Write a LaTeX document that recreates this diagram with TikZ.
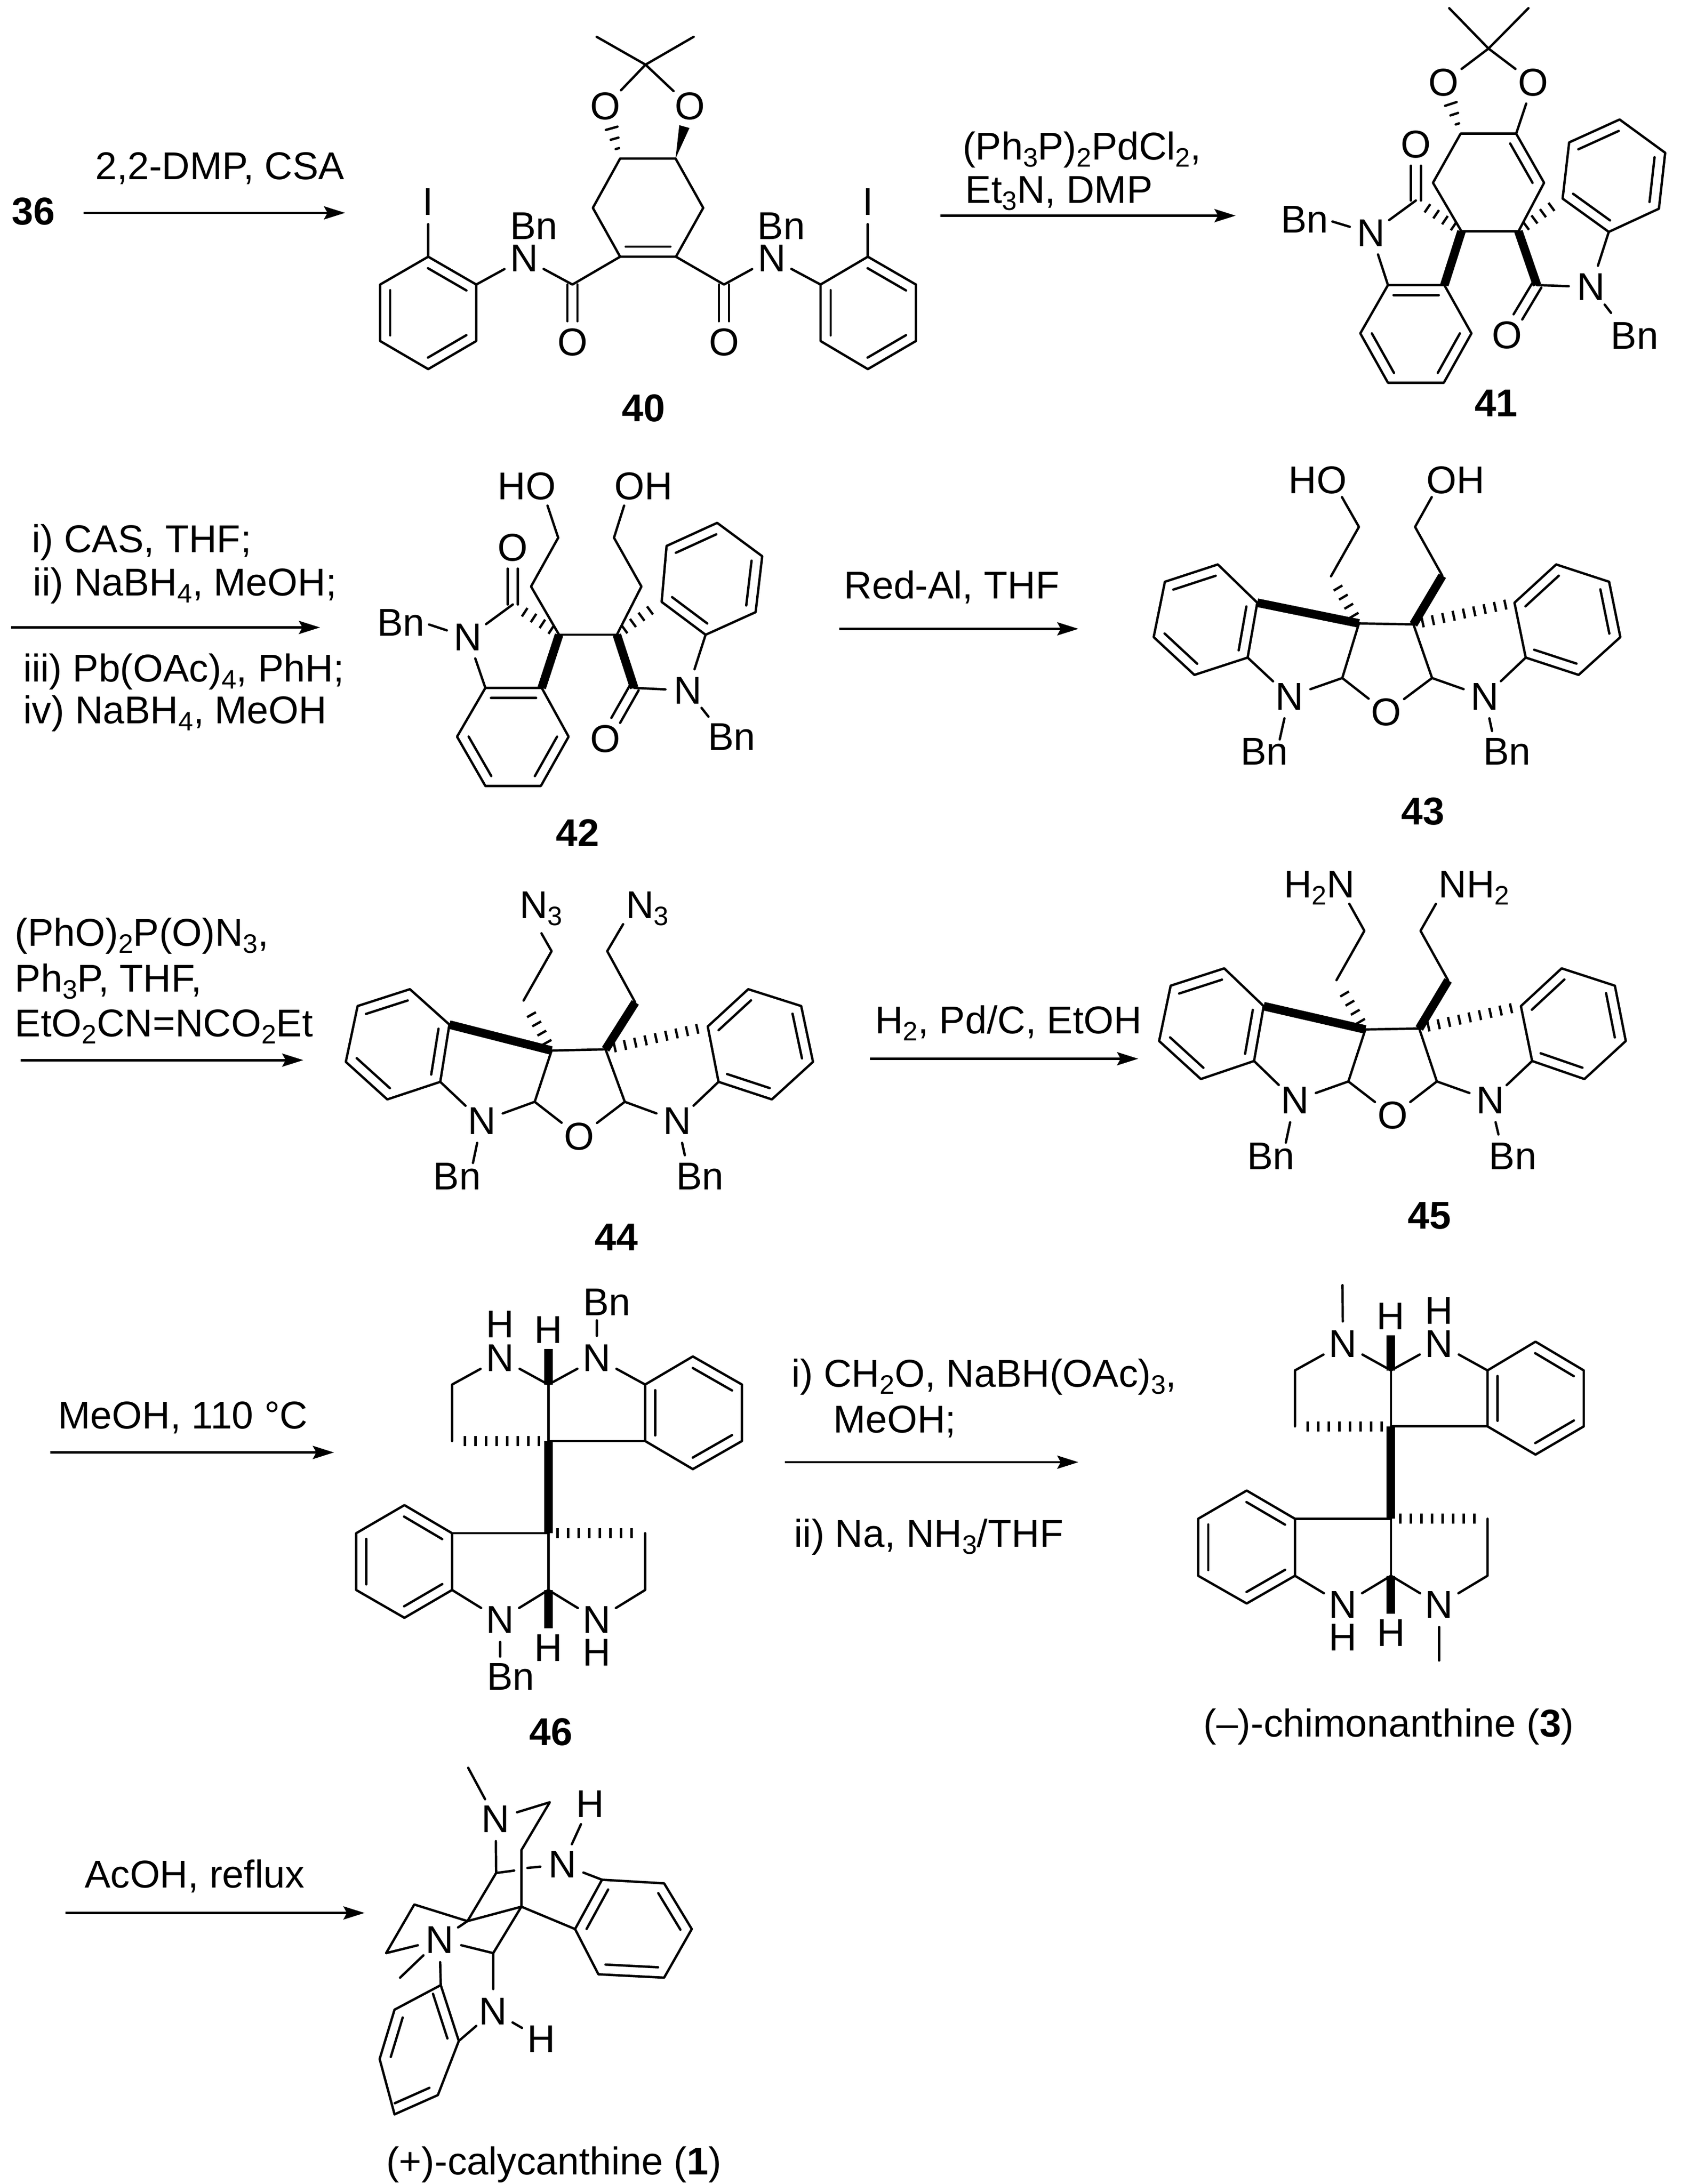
\documentclass[tikz,border=0pt]{standalone}
\usepackage{fontspec}
\setmainfont{Liberation Sans}
\usetikzlibrary{calc,arrows.meta}
\newcommand\sbs[1]{\raisebox{-1.4pt}{\fontsize{5.3}{6}\selectfont #1}}
\tikzset{
  zm/.style n args={4}{shift={(#1*0.1pt,-#2*0.1pt)},x={0.1pt/#3},y={-0.1pt/#4}},
  atom/.style={circle,inner sep=0pt,minimum size=8.4pt,font=\fontsize{7.7}{9}\selectfont},
  lab/.style={inner sep=0pt,font=\fontsize{7.7}{9}\selectfont},
  cond/.style={inner sep=0pt,anchor=base west,font=\fontsize{7.7}{9}\selectfont},
  num/.style={inner sep=0pt,font=\fontsize{7.7}{9}\selectfont\bfseries},
  boldb/.style={line width=1.7pt,line cap=butt},
  hashb/.style={line width=2pt,line cap=butt,dash pattern=on .47pt off 1.63pt,dash phase=.47pt,shorten >=1.5pt},
  rx/.style={-{Stealth[length=4.2pt,width=2.6pt,inset=.7pt]},line cap=butt},
}
\newcommand\Pt[3]{\coordinate (#1) at (#2,#3);}
\newcommand\Atm[4]{\node[atom] (#1) at (#2,#3) {#4};}
\newcommand\Lab[4]{\node[lab] (#1) at (#2,#3) {#4};}
\newcommand\inn[2]{\draw ($(#1)!.1!(#2)!2pt!90:(#2)$) -- ($(#2)!.1!(#1)!2pt!-90:(#1)$);}
\newcommand\ringd[6]{\draw (#1)--(#2)--(#3)--(#4)--(#5)--(#6)--cycle; \inn{#1}{#2}\inn{#3}{#4}\inn{#5}{#6}}
\newcommand\symd[2]{%
  \draw ($(#1)!1pt!90:(#2)$) -- ($(#2)!4.2pt!(#1)!1pt!-90:(#1)$);
  \draw ($(#1)!1pt!-90:(#2)$) -- ($(#2)!4.2pt!(#1)!1pt!90:(#1)$);}
\newcommand\swedge[3]{\fill (#1) -- ($(#2)!#3!90:(#1)$) -- ($(#2)!#3!-90:(#1)$) -- cycle;}
\newcommand\thash[2]{%
  \draw ($(#1)!.19!(#2)!.35pt!90:(#2)$) -- ($(#1)!.19!(#2)!.35pt!-90:(#2)$);
  \draw ($(#1)!.38!(#2)!.8pt!90:(#2)$) -- ($(#1)!.38!(#2)!.8pt!-90:(#2)$);
  \draw ($(#1)!.58!(#2)!1.2pt!90:(#2)$) -- ($(#1)!.58!(#2)!1.2pt!-90:(#2)$);}
% core shared by 41 and 42
\newcommand\spiroCore{%
  \draw (c5)--(c6);
  \draw[boldb] (c5)--(b1); \draw[boldb] (c6)--(a2);
  \draw[hashb] (c5)--(a1); \draw[hashb] (c6)--(d1);
  \draw (a1)--(N1)--(b2); \draw (a2)--(N2)--(d6);
  \draw (N1)--(nb1); \draw (N2)--(nb2);
  \symd{a1}{O3}\symd{a2}{O4}
  \ringd{b1}{b2}{b3}{b4}{b5}{b6}
  \ringd{d1}{d6}{d5}{d4}{d3}{d2}}
% core shared by 43, 44 and 45
\newcommand\tetraCore{%
  \draw (e1)--(c1)--(c2); \draw (e2)--(c3)--(c4);
  \draw[boldb] (c5)--(b1); \draw[boldb] (c6)--(c4);
  \draw[hashb] (c5)--(c2); \draw[hashb] (c6)--(d1);
  \draw (c5)--(c6);
  \draw (c5)--(e); \draw (c6)--(f);
  \draw (e)--(O); \draw (f)--(O);
  \draw (b2)--(N1)--(e); \draw (d2)--(N2)--(f);
  \draw (N1)--(nb1); \draw (N2)--(nb2);
  \ringd{b6}{b5}{b4}{b3}{b2}{b1}
  \ringd{d2}{d3}{d4}{d5}{d6}{d1}}
% core shared by 46 and 3
\newcommand\dimerCore{%
  \draw (N1)--(p1)--(p2); \draw[hashb] (c2)--(p2);
  \draw (N1)--(c1)--(N2)--(q1);
  \draw (c1)--(c2)--(q2);
  \draw[boldb] (c1)--(hu); \draw[boldb] (c2)--(c3); \draw[boldb] (c4)--(hd);
  \draw (c3)--(s1); \draw (c3)--(c4);
  \draw (s2)--(N3)--(c4)--(N4)--(u1)--(u2);
  \draw[hashb] (c3)--(u2);
  \ringd{q1}{q2}{r5}{r4}{r3}{r2}
  \ringd{s1}{t2}{t3}{t4}{t5}{s2}}
\begin{document}
\begin{tikzpicture}[line width=.47pt,line cap=round,line join=round]
\fill[white] (0,0) rectangle (333.9pt,-433.9pt);
\path[use as bounding box] (0,0) rectangle (333.9pt,-433.9pt);

% ---- reaction arrows and conditions
\begin{scope}[name prefix=g-,x=.2764pt,y=-.2764pt]
\node[num] (n36) at (24,152) {36};
\Lab{t1}{158}{121}{2,2-DMP, CSA}
\Pt{r1s}{60}{153}\Pt{r1e}{248}{153}\draw[rx] (r1s)--(r1e);
\node[cond] (t2) at (691,115) {(Ph\sbs{3}P)\sbs{2}PdCl\sbs{2},};
\node[cond] (t3) at (693,146) {Et\sbs{3}N, DMP};
\Pt{r2s}{676}{155}\Pt{r2e}{888}{155}\draw[rx] (r2s)--(r2e);
\node[cond] (t4) at (22,397) {i) CAS, THF;};
\node[cond] (t5) at (23,428) {ii) NaBH\sbs{4}, MeOH;};
\Pt{r3s}{8}{451}\Pt{r3e}{230}{451}\draw[rx] (r3s)--(r3e);
\node[cond] (t6) at (16,490) {iii) Pb(OAc)\sbs{4}, PhH;};
\node[cond] (t7) at (16,520) {iv) NaBH\sbs{4}, MeOH};
\Lab{t8}{684}{422}{Red-Al, THF}
\Pt{r4s}{603}{452}\Pt{r4e}{775}{452}\draw[rx] (r4s)--(r4e);
\node[cond] (t9) at (10,680) {(PhO)\sbs{2}P(O)N\sbs{3},};
\node[cond] (t10) at (10,713) {Ph\sbs{3}P, THF,};
\node[cond] (t11) at (10,745) {EtO\sbs{2}CN=NCO\sbs{2}Et};
\Pt{r5s}{15}{762}\Pt{r5e}{218}{762}\draw[rx] (r5s)--(r5e);
\node[cond] (t12) at (628,743) {H\sbs{2}, Pd/C, EtOH};
\Pt{r6s}{625}{761}\Pt{r6e}{818}{761}\draw[rx] (r6s)--(r6e);
\node[cond] (t13) at (41,1027) {MeOH, 110 °C};
\Pt{r7s}{36}{1044}\Pt{r7e}{240}{1044}\draw[rx] (r7s)--(r7e);
\node[cond] (t14) at (568,997) {i) CH\sbs{2}O, NaBH(OAc)\sbs{3},};
\node[cond] (t15) at (598,1030) {MeOH;};
\Pt{r8s}{564}{1051}\Pt{r8e}{775}{1051}\draw[rx] (r8s)--(r8e);
\node[cond] (t16) at (570,1112) {ii) Na, NH\sbs{3}/THF};
\node[cond] (t17) at (60,1357) {AcOH, reflux};
\Pt{r9s}{47}{1375}\Pt{r9e}{262}{1375}\draw[rx] (r9s)--(r9e);
\node[num] (n46) at (396,1245) {46};
\Lab{t18}{998}{1241}{(–)-chimonanthine (\textbf{3})}
\Lab{t19}{398}{1556}{(+)-calycanthine (\textbf{1})}
\end{scope}

% ---- 40
\begin{scope}[name prefix=m40-,zm={700}{0}{1.307}{1.845}]
\Pt{me1}{635}{135}\Pt{me2}{887}{135}\Pt{cq}{762}{237}
\Atm{O1}{658}{390}{O}\Atm{O2}{877}{390}{O}
\Pt{c1}{696}{581}\Pt{c2}{840}{581}\Pt{c3}{625}{762}\Pt{c4}{912}{762}\Pt{c5}{696}{941}\Pt{c6}{841}{941}
\Pt{w}{863}{464}
\Pt{am1}{572}{1043}\Pt{am2}{966}{1043}
\Atm{O3}{572}{1255}{O}\Atm{O4}{966}{1255}{O}
\Atm{N1}{446}{947}{N}\Atm{N2}{1090}{947}{N}
\Lab{Bn1}{472}{828}{Bn}\Lab{Bn2}{1115}{828}{Bn}
\Pt{a1}{322}{1043}\Pt{a2}{197}{941}\Pt{a3}{72}{1043}\Pt{a4}{72}{1250}\Pt{a5}{197}{1353}\Pt{a6}{322}{1250}
\Pt{b1}{1217}{1043}\Pt{b2}{1340}{941}\Pt{b3}{1465}{1043}\Pt{b4}{1465}{1250}\Pt{b5}{1340}{1353}\Pt{b6}{1217}{1250}
\Atm{I1}{197}{740}{I}\Atm{I2}{1340}{740}{I}
\draw (me1)--(cq)--(me2); \draw (cq)--(O1); \draw (cq)--(O2);
\thash{c1}{O1}\swedge{c2}{w}{1.05pt}
\draw (c2)--(c1)--(c3)--(c5)--(c6)--(c4)--(c2);
\inn{c5}{c6}
\draw (c5)--(am1)--(N1)--(a1); \draw (c6)--(am2)--(N2)--(b1);
\symd{am1}{O3}\symd{am2}{O4}
\draw (a2)--(I1); \draw (b2)--(I2);
\ringd{a1}{a2}{a3}{a4}{a5}{a6}
\ringd{b1}{b6}{b5}{b4}{b3}{b2}
\node[num] (n) at (757,1497) {40};
\end{scope}

% ---- 41
\begin{scope}[name prefix=m41-,zm={2450}{0}{1.764}{1.845}]
\Pt{me1}{757}{30}\Pt{me2}{1035}{30}\Pt{cq}{895}{178}
\Atm{O1}{738}{302}{O}\Atm{O2}{1052}{302}{O}
\Pt{c1}{797}{490}\Pt{c2}{992}{490}\Pt{c3}{700}{670}\Pt{c4}{1090}{670}\Pt{c5}{800}{848}\Pt{c6}{1000}{848}
\Pt{a1}{640}{735}\Atm{O3}{640}{530}{O}\Atm{N1}{483}{855}{N}
\Lab{Bn1}{250}{805}{Bn}\Pt{nb1}{347}{812}
\Pt{b1}{740}{1045}\Pt{b2}{542}{1045}\Pt{b3}{445}{1222}\Pt{b4}{542}{1403}\Pt{b5}{738}{1403}\Pt{b6}{835}{1222}
\Pt{a2}{1065}{1045}\Atm{O4}{960}{1228}{O}\Atm{N2}{1255}{1052}{N}
\Lab{Bn2}{1408}{1230}{Bn}\Pt{nb2}{1325}{1147}
\Pt{d1}{1155}{728}\Pt{d2}{1178}{522}\Pt{d3}{1355}{438}\Pt{d4}{1515}{560}\Pt{d5}{1493}{765}\Pt{d6}{1317}{850}
\draw (me1)--(cq)--(me2); \draw (cq)--(O1); \draw (cq)--(O2); \draw (O2)--(c2);
\thash{c1}{O1}
\draw (c2)--(c1)--(c3)--(c5); \draw (c6)--(c4)--(c2);
\inn{c4}{c2}
\spiroCore
\node[num] (n) at (922,1478) {41};
\end{scope}

% ---- 42
\begin{scope}[name prefix=m42-,zm={700}{900}{1.742}{1.96}]
\Lab{HO}{603}{130}{HO}\Lab{OH}{1008}{130}{OH}
\Pt{e1}{675}{205}\Pt{e2}{940}{205}
\Pt{c1}{712}{330}\Pt{c2}{618}{520}\Pt{c3}{905}{330}\Pt{c4}{1000}{520}\Pt{c5}{715}{708}\Pt{c6}{915}{708}
\Pt{a1}{555}{590}\Atm{O3}{555}{368}{O}\Atm{N1}{400}{718}{N}
\Lab{Bn1}{168}{660}{Bn}\Pt{nb1}{265}{668}
\Pt{b1}{655}{915}\Pt{b2}{460}{915}\Pt{b3}{362}{1105}\Pt{b4}{460}{1297}\Pt{b5}{652}{1297}\Pt{b6}{748}{1105}
\Pt{a2}{975}{915}\Atm{O4}{875}{1113}{O}\Atm{N2}{1160}{925}{N}
\Lab{Bn2}{1312}{1105}{Bn}\Pt{nb2}{1232}{1027}
\Pt{d1}{1070}{580}\Pt{d2}{1087}{362}\Pt{d3}{1262}{272}\Pt{d4}{1418}{402}\Pt{d5}{1395}{620}\Pt{d6}{1222}{708}
\draw (e1)--(c1)--(c2)--(c5); \draw (e2)--(c3)--(c4)--(c6);
\spiroCore
\node[num] (n) at (780,1480) {42};
\end{scope}

% ---- 43
\begin{scope}[name prefix=m43-,zm={2250}{900}{1.568}{2.09}]
\Lab{HO}{577}{112}{HO}\Lab{OH}{1007}{112}{OH}
\Pt{e1}{652}{183}\Pt{e2}{932}{183}
\Pt{c1}{705}{307}\Pt{c2}{618}{512}\Pt{c3}{880}{307}\Pt{c4}{965}{510}\Pt{c5}{705}{708}\Pt{c6}{875}{712}
\Pt{e}{653}{935}\Pt{f}{933}{935}\Atm{O}{790}{1078}{O}
\Atm{N1}{488}{1012}{N}\Atm{N2}{1097}{1012}{N}
\Lab{Bn1}{410}{1240}{Bn}\Pt{nb1}{458}{1190}\Lab{Bn2}{1167}{1240}{Bn}\Pt{nb2}{1120}{1155}
\Pt{b1}{388}{622}\Pt{b2}{358}{850}\Pt{b3}{192}{922}\Pt{b4}{65}{765}\Pt{b5}{100}{535}\Pt{b6}{265}{463}
\Pt{d1}{1190}{622}\Pt{d2}{1225}{850}\Pt{d3}{1390}{922}\Pt{d4}{1520}{765}\Pt{d5}{1485}{535}\Pt{d6}{1320}{463}
\tetraCore
\node[num] (n) at (905,1490) {43};
\end{scope}

% ---- 44
\begin{scope}[name prefix=m44-,zm={650}{1750}{1.493}{2.09}]
\node[cond] (N3a) at (567,155) {N\sbs{3}};\node[cond] (N3b) at (882,155) {N\sbs{3}};
\Pt{e1}{635}{218}\Pt{e2}{877}{180}
\Pt{c1}{665}{292}\Pt{c2}{582}{497}\Pt{c3}{830}{292}\Pt{c4}{913}{505}\Pt{c5}{665}{705}\Pt{c6}{825}{700}
\Pt{e}{615}{918}\Pt{f}{882}{918}\Atm{O}{747}{1062}{O}
\Atm{N1}{458}{998}{N}\Atm{N2}{1038}{998}{N}
\Lab{Bn1}{385}{1228}{Bn}\Pt{nb1}{432}{1172}\Lab{Bn2}{1105}{1228}{Bn}\Pt{nb2}{1060}{1140}
\Pt{b1}{362}{597}\Pt{b2}{335}{835}\Pt{b3}{178}{908}\Pt{b4}{55}{752}\Pt{b5}{90}{520}\Pt{b6}{245}{450}
\Pt{d1}{1128}{605}\Pt{d2}{1160}{835}\Pt{d3}{1318}{908}\Pt{d4}{1440}{752}\Pt{d5}{1405}{520}\Pt{d6}{1248}{450}
\tetraCore
\node[num] (n) at (857,1480) {44};
\end{scope}

% ---- 45
\begin{scope}[name prefix=m45-,zm={2250}{1700}{1.568}{2.09}]
\node[cond] (Na) at (467,175) {H\sbs{2}N};\node[cond] (Nb) at (950,175) {NH\sbs{2}};
\Pt{e1}{675}{200}\Pt{e2}{945}{200}
\Pt{c1}{722}{312}\Pt{c2}{635}{517}\Pt{c3}{897}{312}\Pt{c4}{983}{518}\Pt{c5}{725}{722}\Pt{c6}{893}{718}
\Pt{e}{672}{938}\Pt{f}{948}{938}\Atm{O}{810}{1080}{O}
\Atm{N1}{505}{1017}{N}\Atm{N2}{1115}{1017}{N}
\Lab{Bn1}{430}{1248}{Bn}\Pt{nb1}{477}{1192}\Lab{Bn2}{1185}{1248}{Bn}\Pt{nb2}{1140}{1158}
\Pt{b1}{408}{625}\Pt{b2}{378}{853}\Pt{b3}{212}{928}\Pt{b4}{82}{770}\Pt{b5}{118}{540}\Pt{b6}{285}{468}
\Pt{d1}{1210}{625}\Pt{d2}{1245}{853}\Pt{d3}{1408}{928}\Pt{d4}{1537}{770}\Pt{d5}{1503}{540}\Pt{d6}{1337}{468}
\tetraCore
\node[num] (n) at (925,1497) {45};
\end{scope}

% ---- 46
\begin{scope}[name prefix=m46-,zm={650}{2550}{1.742}{1.845}]
\Atm{N1}{598}{273}{N}\Lab{H1}{598}{150}{H}\Lab{H2}{765}{170}{H}\Atm{N2}{933}{273}{N}
\Lab{Bn1}{968}{68}{Bn}\Pt{nb1}{933}{135}
\Pt{c1}{765}{370}\Pt{hu}{765}{240}\Pt{c2}{765}{577}\Pt{p1}{432}{370}\Pt{p2}{432}{577}
\Pt{q1}{1100}{370}\Pt{q2}{1100}{577}\Pt{r2}{1265}{267}\Pt{r3}{1435}{370}\Pt{r4}{1435}{577}\Pt{r5}{1265}{680}
\Pt{c3}{765}{915}\Pt{c4}{765}{1123}\Pt{hd}{765}{1263}\Pt{s1}{432}{915}\Pt{s2}{432}{1123}
\Pt{t2}{267}{812}\Pt{t3}{100}{915}\Pt{t4}{100}{1123}\Pt{t5}{267}{1225}
\Atm{N3}{598}{1232}{N}\Atm{N4}{933}{1232}{N}\Lab{H3}{765}{1335}{H}\Lab{H4}{933}{1352}{H}
\Lab{Bn2}{635}{1440}{Bn}\Pt{nb2}{598}{1367}
\Pt{u1}{1100}{1123}\Pt{u2}{1100}{915}
\dimerCore
\draw (N2)--(nb1); \draw (N3)--(nb2);
\end{scope}

% ---- 3
\begin{scope}[name prefix=m3-,zm={2340}{2520}{1.96}{1.96}]
\Atm{N1}{642}{293}{N}\Lab{H2}{828}{185}{H}\Lab{H1}{1017}{165}{H}\Atm{N2}{1017}{293}{N}
\Pt{nb1}{640}{65}
\Pt{c1}{829}{397}\Pt{hu}{829}{260}\Pt{c2}{829}{615}\Pt{p1}{455}{397}\Pt{p2}{455}{615}
\Pt{q1}{1205}{397}\Pt{q2}{1205}{615}\Pt{r2}{1392}{285}\Pt{r3}{1580}{397}\Pt{r4}{1580}{615}\Pt{r5}{1392}{725}
\Pt{c3}{829}{975}\Pt{c4}{829}{1197}\Pt{hd}{829}{1345}\Pt{s1}{455}{975}\Pt{s2}{455}{1197}
\Pt{t2}{267}{865}\Pt{t3}{78}{975}\Pt{t4}{78}{1197}\Pt{t5}{267}{1305}
\Atm{N3}{642}{1310}{N}\Atm{N4}{1017}{1310}{N}\Lab{H3}{642}{1438}{H}\Lab{H4}{829}{1420}{H}
\Pt{nb2}{1017}{1527}
\Pt{u1}{1205}{1197}\Pt{u2}{1205}{975}
\dimerCore
\draw (N1)--(nb1); \draw (N4)--(nb2);
\end{scope}

% ---- 1
\begin{scope}[name prefix=m1-,zm={700}{3500}{2.09}{2.09}]
\Pt{me}{481}{25}\Atm{N1}{595}{237}{N}\Pt{r1}{820}{168}\Pt{c1}{702}{367}\Pt{c2}{702}{602}
\Pt{c3}{597}{462}\Pt{g1}{672}{452}\Pt{g2}{727}{441}\Atm{N2}{873}{427}{N}\Atm{H1}{988}{175}{H}
\Pt{c4}{478}{662}\Pt{p}{257}{593}\Pt{q}{140}{795}\Atm{N3}{362}{740}{N}\Pt{me3}{198}{897}
\Pt{c5}{585}{795}\Atm{N4}{585}{1037}{N}\Atm{H4}{785}{1152}{H}
\Pt{e1}{925}{695}\Pt{e2}{1037}{490}\Pt{e3}{1295}{505}\Pt{e4}{1410}{695}\Pt{e5}{1295}{897}\Pt{e6}{1022}{883}
\Pt{f1}{367}{928}\Pt{f2}{442}{1160}\Pt{f3}{355}{1385}\Pt{f4}{175}{1465}\Pt{f5}{113}{1235}\Pt{f6}{175}{1030}
\draw (N1)--(me); \draw (N1)--(r1)--(c1)--(c2); \draw (N1)--(c3)--(g1); \draw (g2)--(N2); \draw (N2)--(H1);
\draw (c3)--(c4)--(c2); \draw (c4)--(p)--(q)--(N3); \draw (N3)--(me3); \draw (c4)--(N3);
\draw (N3)--(c5)--(c2); \draw (c5)--(N4)--(H4); \draw (N4)--(f2); \draw (N3)--(f1);
\draw (c2)--(e1); \draw (N2)--(e2);
\ringd{e6}{e5}{e4}{e3}{e2}{e1}
\ringd{f6}{f5}{f4}{f3}{f2}{f1}
\end{scope}
\end{tikzpicture}
\end{document}
